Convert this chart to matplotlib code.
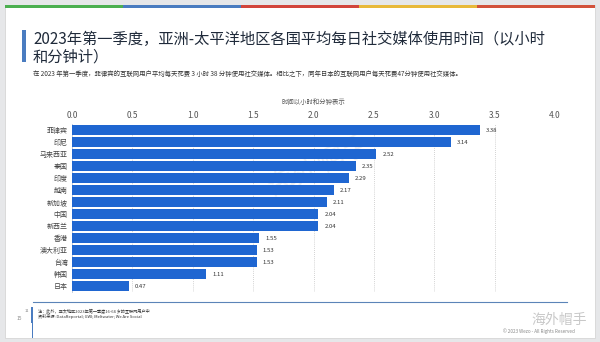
import matplotlib.pyplot as plt
from matplotlib.patches import Rectangle

plt.rcParams["font.family"] = ["Noto Sans CJK SC", "DejaVu Sans"]
plt.rcParams["axes.unicode_minus"] = False

# 数据
countries = ["菲律宾", "印尼", "马来西亚", "泰国", "印度", "越南", "新加坡",
             "中国", "新西兰", "香港", "澳大利亚", "台湾", "韩国", "日本"]
hours = [3.38, 3.14, 2.52, 2.35, 2.29, 2.17, 2.11,
         2.04, 2.04, 1.55, 1.53, 1.53, 1.11, 0.47]
labels = ["3.38", "3.14", "2.52", "2.35", "2.29", "2.17", "2.11",
          "2.04", "2.04", "1.55", "1.53", "1.53", "1.11", "0.47"]
x_ticks = [0.0, 0.5, 1.0, 1.5, 2.0, 2.5, 3.0, 3.5, 4.0]

W, H = 600, 342
fig = plt.figure(figsize=(6, 3.42), dpi=100)
fig.patch.set_facecolor("#e6e7e9")


def px(x, y, w, h):
    # 像素坐标(左上原点) -> figure 坐标
    return (x / W, 1 - (y + h) / H), w / W, h / H


def add_rect(x, y, w, h, **kw):
    xy, ww, hh = px(x, y, w, h)
    r = Rectangle(xy, ww, hh, transform=fig.transFigure, **kw)
    fig.patches.append(r)


# 白色卡片
add_rect(5, 5, 590, 333, fc="white", ec="#d6d6d6", lw=0.6, zorder=-5)

# 顶部彩条
stripe_colors = ["#4caf50", "#4a7cc0", "#d2453b", "#e8b93a", "#d2523b"]
seg = 590 / 5
for i, c in enumerate(stripe_colors):
    add_rect(5 + i * seg, 5, seg, 2.5, fc=c, ec="none", zorder=-4)

# 标题左侧竖条
add_rect(22, 30, 3.5, 32, fc="#4a7cc0", ec="none", zorder=-4)

fig.text(33 / W, 1 - 39 / H, "2023年第一季度，亚洲-太平洋地区各国平均每日社交媒体使用时间（以小时",
         fontsize=11, color="#1f2a3a", va="center", ha="left")
fig.text(33 / W, 1 - 57 / H, "和分钟计）", fontsize=11, color="#1f2a3a", va="center", ha="left")
fig.text(33 / W, 1 - 74 / H,
         "在 2023 年第一季度，菲律宾的互联网用户平均每天花费 3 小时 38 分钟使用社交媒体。相比之下，同年日本的互联网用户每天花费47分钟使用社交媒体。",
         fontsize=4.6, color="#333333", va="center", ha="left")

# 条形图
ax = fig.add_axes([72 / W, 1 - 292 / H, 483 / W, 168 / H])
ax.set_zorder(2)
ax.patch.set_alpha(0)
y = list(range(len(countries)))
ax.barh(y, hours, height=0.8, color="#1f66d1", zorder=3)
for yi, v, t in zip(y, hours, labels):
    ax.text(v + 0.05, yi, t, fontsize=4.3, color="#333333", va="center", ha="left")

ax.set_xlim(0, 4.0)
ax.set_ylim(len(countries) - 0.5, -0.5)
ax.set_yticks(y)
ax.set_yticklabels(countries, fontsize=5, color="#444444")
ax.set_xticks(x_ticks)
ax.set_xticklabels(["%.1f" % t for t in x_ticks], fontsize=6, color="#555555")
ax.xaxis.tick_top()
ax.xaxis.set_label_position("top")
ax.set_xlabel("时间以小时和分钟表示", fontsize=4.6, color="#555555", labelpad=5)
ax.tick_params(axis="both", length=0, pad=3)
ax.grid(axis="x", linestyle=(0, (1, 1.5)), color="#c4c4c4", lw=0.6, zorder=0)
for s in ["top", "right", "bottom"]:
    ax.spines[s].set_visible(False)
ax.spines["left"].set_color("#b8c4d6")
ax.spines["left"].set_linewidth(0.6)

# 水印
fig.text(320 / W, 1 - 165 / H, "海外帽手", fontsize=20, color="#f0f0f0", rotation=25,
         ha="center", va="center", zorder=-3)

# 底部分隔线和脚注
fig.add_artist(plt.Line2D([33 / W, 567 / W], [1 - 302 / H, 1 - 302 / H], color="#5b84b8", lw=0.8))
add_rect(31, 307, 2.2, 16, fc="#4a7cc0", ec="none")
add_rect(31.7, 323, 0.8, 15, fc="#4a7cc0", ec="none")
fig.text(17 / W, 1 - 318 / H, "15", fontsize=3.5, color="#888888", va="center")
fig.text(25 / W, 1 - 311 / H, "11", fontsize=3, color="#888888", va="center")
fig.text(38 / W, 1 - 312 / H, "注：此外，亚太地区2023年第一季度16-64 岁的互联网用户中",
         fontsize=3, color="#333333", va="center")
fig.text(38 / W, 1 - 316.5 / H, "资料来源: DataReportal; GWI; Meltwater; We Are Social",
         fontsize=3, color="#333333", va="center")
fig.text(587 / W, 1 - 320 / H, "海外帽手", fontsize=10, color="#c8c8c8", ha="right", va="center")
fig.text(575 / W, 1 - 331 / H, "© 2023 Wezo - All Rights Reserved", fontsize=3.3, color="#888888",
         ha="right", va="center")

fig.savefig("out.png", dpi=100, facecolor=fig.get_facecolor())
